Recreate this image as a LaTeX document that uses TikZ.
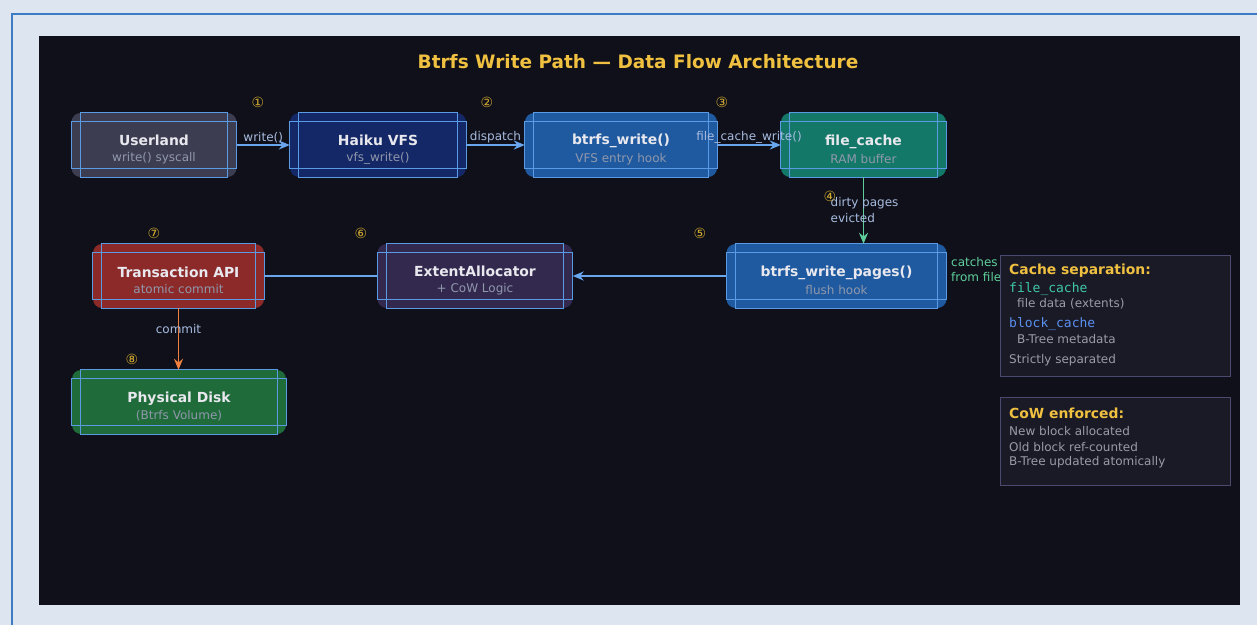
\documentclass[tikz,border=0pt]{standalone}
\usepackage{fontspec}
\setmainfont{DejaVu Sans}
\setmonofont{DejaVu Sans Mono}
\usetikzlibrary{arrows.meta,positioning}

\definecolor{pagebg}{HTML}{DDE6F0}
\definecolor{pageline}{HTML}{3B7BC4}
\definecolor{panel}{HTML}{0F1019}
\definecolor{userfill}{HTML}{3D3D52}
\definecolor{vfsfill}{HTML}{142766}
\definecolor{hookfill}{HTML}{1F5AA0}
\definecolor{cachefill}{HTML}{137868}
\definecolor{txnfill}{HTML}{8C2A2A}
\definecolor{extfill}{HTML}{33284E}
\definecolor{diskfill}{HTML}{1F6B3A}
\definecolor{edgeblue}{HTML}{5B9BE6}
\definecolor{flowblue}{HTML}{6AA6EE}
\definecolor{flowgreen}{HTML}{5ECF9C}
\definecolor{floworange}{HTML}{F08040}
\definecolor{ttext}{HTML}{E8E8EE}
\definecolor{subtext}{HTML}{9098AC}
\definecolor{lbltext}{HTML}{A8BCE0}
\definecolor{titlegold}{HTML}{F0C040}
\definecolor{goldnum}{HTML}{D0A830}
\definecolor{infofill}{HTML}{1A1A27}
\definecolor{infoline}{HTML}{4A4A70}
\definecolor{infotext}{HTML}{9A9AA8}
\definecolor{monogreen}{HTML}{40C8A8}
\definecolor{monoblue}{HTML}{5A90F0}

\tikzset{
  stagebox/.style={rounded corners=9pt, minimum height=64pt, inner sep=0pt, text=ttext, align=center},
  frame/.style={draw=edgeblue, line width=1.1pt},
  flow/.style={-{Stealth[length=11pt,width=9pt]}, line width=1.8pt, draw=flowblue},
  steplbl/.style={text=goldnum, font=\fontsize{14}{14}\selectfont},
  edgelbl/.style={text=lbltext, font=\fontsize{12}{16}\selectfont},
  infobox/.style={fill=infofill, draw=infoline, line width=0.9pt, anchor=north west, inner sep=0pt},
  infolbl/.style={anchor=west, inner sep=0pt, text=infotext, font=\fontsize{12}{14}\selectfont},
}

\newcommand{\stagetxt}[2]{{\fontsize{13.9}{17}\selectfont\bfseries\rule{0pt}{19.5pt}#1}\\[4pt]{\fontsize{12}{14}\selectfont\color{subtext}#2}}

\begin{document}
\begin{tikzpicture}[x=1pt,y=-1pt]
\useasboundingbox (0,0) rectangle (1257,625);
\fill[pagebg] (0,0) rectangle (1257,625);
\draw[pageline, line width=2pt] (12,625) -- (12,14) -- (1257,14);
\fill[panel] (39,36) rectangle (1240,605);

\node[font=\fontsize{18.5}{22}\selectfont\bfseries, text=titlegold] (title) at (638,62) {Btrfs Write Path — Data Flow Architecture};

% stages
\node[stagebox, fill=userfill, minimum width=165pt] (user) at (154,145) {\stagetxt{Userland}{write() syscall}};
\node[stagebox, fill=vfsfill, minimum width=176pt] (vfs) at (378,145) {\stagetxt{Haiku VFS}{vfs\_write()}};
\node[stagebox, fill=hookfill, minimum width=192pt] (bwrite) at (621,145) {\stagetxt{btrfs\_write()}{VFS entry hook}};
\node[stagebox, fill=cachefill, minimum width=165pt] (fcache) at (863.5,145) {\stagetxt{file\_cache}{RAM buffer}};
\node[stagebox, fill=hookfill, minimum width=220pt] (pages) at (836.5,276) {\stagetxt{btrfs\_write\_pages()}{flush hook}};
\node[stagebox, fill=extfill, minimum width=195pt] (extent) at (475,276) {\stagetxt{ExtentAllocator}{+ CoW Logic}};
\node[stagebox, fill=txnfill, minimum width=171pt] (txn) at (178.5,276) {\stagetxt{Transaction API}{atomic commit}};
\node[stagebox, fill=diskfill, minimum width=214pt] (disk) at (179,402) {\stagetxt{Physical Disk}{(Btrfs Volume)}};

\foreach \n in {user,vfs,bwrite,fcache,pages,extent,txn,disk} {
  \draw[frame] ([xshift=9pt]\n.north west) rectangle ([xshift=-9pt]\n.south east);
  \draw[frame] ([yshift=-8.5pt]\n.north west) rectangle ([yshift=8.5pt]\n.south east);
}

% flow
\draw[flow] (user) -- node[edgelbl, above, inner sep=1pt] (lwrite) {write()} (vfs);
\draw[flow] (vfs) -- node[edgelbl, above, inner sep=1pt] (ldispatch) {dispatch} (bwrite);
\draw[flow] (bwrite) -- node[edgelbl, above, inner sep=1pt] (lfcw) {file\_cache\_write()} (fcache);
\draw[flow, draw=flowgreen] (fcache.south) -- node[edgelbl, anchor=west, xshift=-37pt, align=left] (ldirty) {dirty pages\\evicted} (fcache.south |- pages.north);
\draw[flow] (pages) -- (extent);
\draw[line width=1.8pt, flowblue] (extent) -- (txn);
\draw[flow, draw=floworange] (txn.south) -- node[edgelbl, pos=0.33] (lcommit) {commit} (txn.south |- disk.north);

% step numbers
\node[steplbl] (s1) at (258,102) {①};
\node[steplbl] (s2) at (487,102) {②};
\node[steplbl] (s3) at (722,102) {③};
\node[steplbl] (s4) at (830,196) {④};
\node[steplbl] (s5) at (700,233) {⑤};
\node[steplbl] (s6) at (361,233) {⑥};
\node[steplbl] (s7) at (154,233) {⑦};
\node[steplbl] (s8) at (132,359) {⑧};

\node[edgelbl, text=flowgreen, anchor=west, align=left, inner sep=0pt, font=\fontsize{12}{15}\selectfont] (lcatch) at (951,269.5) {catches\\from file};

% notes
\node[infobox, minimum width=230pt, minimum height=121pt] (cachebox) at (1000,255) {};
\node[infolbl, text=titlegold, font=\fontsize{13.9}{16}\selectfont\bfseries] (ct) at (1009,270.5) {Cache separation:};
\node[infolbl, text=monogreen, font=\fontsize{13}{15}\ttfamily] (c1) at (1009,289) {file\_cache};
\node[infolbl] (c2) at (1017,304) {file data (extents)};
\node[infolbl, text=monoblue, font=\fontsize{13}{15}\ttfamily] (c3) at (1009,324) {block\_cache};
\node[infolbl] (c4) at (1017,339) {B-Tree metadata};
\node[infolbl] (c5) at (1009,360.5) {Strictly separated};

\node[infobox, minimum width=230pt, minimum height=88pt] (cowbox) at (1000,397) {};
\node[infolbl, text=titlegold, font=\fontsize{13.9}{16}\selectfont\bfseries] (wt) at (1009,413) {CoW enforced:};
\node[infolbl] (w1) at (1009,431) {New block allocated};
\node[infolbl] (w2) at (1009,447) {Old block ref-counted};
\node[infolbl] (w3) at (1009,462) {B-Tree updated atomically};
\end{tikzpicture}
\end{document}
